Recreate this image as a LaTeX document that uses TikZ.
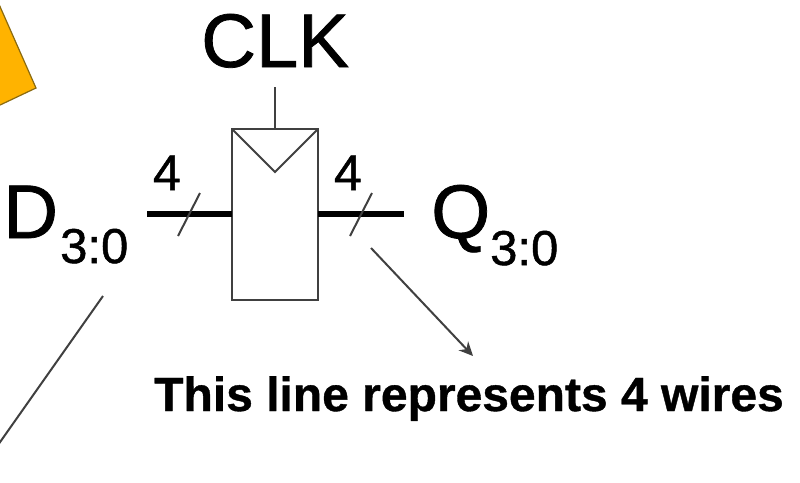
\documentclass[tikz,border=0pt]{standalone}
\usepackage{fontspec}
\setmainfont[FakeBold=1]{Liberation Sans}
\newfontfamily\notefont[FakeBold=0.8]{Liberation Sans Bold}
\usetikzlibrary{arrows.meta}
\definecolor{gateorange}{HTML}{FFB300}
\definecolor{gateedge}{HTML}{8A6A10}
\tikzset{
  biglabel/.style={inner sep=0pt, anchor=base west, font=\fontsize{76}{76}\selectfont},
  sublabel/.style={inner sep=0pt, anchor=base west, font=\fontsize{49}{49}\selectfont},
  widthlabel/.style={inner sep=0pt, anchor=base, font=\fontsize{50}{50}\selectfont},
  thinwire/.style={draw=black!75, line width=2pt},
  busline/.style={draw=black, line width=6pt},
}
\begin{document}
\begin{tikzpicture}[x=1pt,y=-1pt]
\useasboundingbox (0,0) rectangle (800,482);

% corner of the shape on the left
\fill[draw=gateedge, fill=gateorange, line width=1.2pt] (-2,2) -- (36,88) -- (-2,106) -- cycle;

% flip-flop
\coordinate (ffnw) at (232,129);
\coordinate (ffne) at (318,129);
\coordinate (ffse) at (318,300);
\coordinate (ffsw) at (232,300);
\coordinate (clktip) at (275,172);
\coordinate (clktop) at (275,87);
\coordinate (clkin) at (275,129);
\draw[thinwire] (ffnw) -- (ffne) -- (ffse) -- (ffsw) -- cycle;
\draw[thinwire] (ffnw) -- (clktip) -- (ffne);
\draw[thinwire] (clktop) -- (clkin);

% buses
\coordinate (din) at (147,214);
\coordinate (dout) at (232,214);
\coordinate (qin) at (318,214);
\coordinate (qout) at (404,214);
\draw[busline] (din) -- (dout);
\draw[busline] (qin) -- (qout);
\coordinate (dslasha) at (178,236);
\coordinate (dslashb) at (200,193);
\coordinate (qslasha) at (350,236);
\coordinate (qslashb) at (372,193);
\draw[thinwire] (dslasha) -- (dslashb);
\draw[thinwire] (qslasha) -- (qslashb);

% labels
\node[biglabel] (clk) at (201,67) {CLK};
\node[biglabel] (d) at (3,238) {D};
\node[sublabel] (dsub) at (60,263) {3:0};
\node[biglabel] (q) at (431,238) {Q};
\node[sublabel] (qsub) at (490,265) {3:0};
\node[widthlabel] (dwidth) at (167,190) {4};
\node[widthlabel] (qwidth) at (348,190) {4};
\node[inner sep=0pt, anchor=base west, font=\fontsize{48}{48}\selectfont\notefont] (note) at (154,411) {This line represents 4 wires};

% pointers
\coordinate (noteend) at (473,356);
\coordinate (notestart) at (371,248);
\coordinate (leftstart) at (103,296);
\coordinate (leftend) at (-2,445);
\draw[thinwire, -{Stealth[length=14pt,width=13pt]}] (notestart) -- (noteend);
\draw[thinwire] (leftstart) -- (leftend);
\end{tikzpicture}
\end{document}
